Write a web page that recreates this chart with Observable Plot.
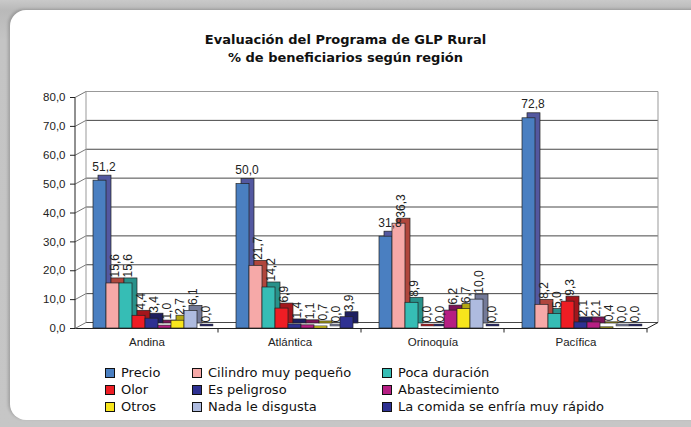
<!DOCTYPE html>
<html>
<head>
<meta charset="utf-8">
<script src="https://cdn.jsdelivr.net/npm/d3@7"></script>
<script src="https://cdn.jsdelivr.net/npm/@observablehq/plot@0.6"></script>
<style>
  html, body { margin: 0; padding: 0; }
  body { width: 691px; height: 427px; overflow: hidden; position: relative;
         background: linear-gradient(180deg, #c9c9c9 0px, #b9b9b9 10px, #c4c4c4 40px, #c6c6c6 100%); }
  #card { position: absolute; left: 10px; top: 10px; width: 720px; height: 410px; background: #fff;
          border-radius: 16px; box-shadow: -2px -1px 3px rgba(0,0,0,0.18); }
  #title { position: absolute; top: 31px; left: 0; width: 691px; text-align: center;
           font-family: "DejaVu Sans", sans-serif;
           font-weight: bold; font-size: 13px; line-height: 18px; color: #111; }
  #chart { position: absolute; top: 80px; left: 0; }
  #legend { position: absolute; top: 364px; left: 0; width: 691px;
            font-family: "DejaVu Sans", sans-serif;
            font-size: 13px; line-height: 17px; color: #111; }
  .item { position: absolute; white-space: nowrap; }
  .sw { display: inline-block; width: 8px; height: 8px; border: 1.5px solid #111; margin-right: 6px; vertical-align: -1px; }
</style>
</head>
<body>
<div id="card"></div>
<div id="title">Evaluación del Programa de GLP Rural<br>% de beneficiarios según región</div>
<div id="chart"></div>
<div id="legend"></div>
<script>
const regions = ["Andina", "Atlántica", "Orinoquía", "Pacífica"];
const series = ["Precio", "Cilindro muy pequeño", "Poca duración", "Olor", "Es peligroso",
                "Abastecimiento", "Otros", "Nada le disgusta", "La comida se enfría muy rápido"];
const andina    = [51.2, 15.6, 15.6, 4.4, 3.4, 1.0, 2.7, 6.1, 0.0];
const atlantica = [50.0, 21.7, 14.2, 6.9, 1.4, 1.1, 0.7, 0.0, 3.9];
const orinoquia = [31.8, 36.3, 8.9, 0.0, 0.0, 6.2, 6.7, 10.0, 0.0];
const pacifica  = [72.8, 8.2, 5.0, 9.3, 2.1, 2.1, 0.4, 0.0, 0.0];
const yTicks = [0, 10, 20, 30, 40, 50, 60, 70, 80];
const frontColors = ["#4A7FC1", "#F6A9A8", "#36BDB5", "#EE1D24", "#2E3192", "#B61E83", "#F7E51C", "#AEBBDF", "#2E3192"];
const sideColors  = ["#5358A0", "#B0463C", "#28918A", "#A3161C", "#1E1F60", "#7C1458", "#B4A712", "#737A98", "#1E1F60"];

const values = [andina, atlantica, orinoquia, pacifica];
const data = regions.flatMap((r, i) => series.map((s, j) => ({region: r, series: s, value: values[i][j], j})));
const deco = regions.map(r => ({region: r}));
const fmt = v => v.toFixed(1).replace(".", ",");

const DX = 11, DY = -6;

function addLine(g, a, b, c, d, s) {
  const l = document.createElementNS("http://www.w3.org/2000/svg", "line");
  l.setAttribute("x1", a); l.setAttribute("y1", b); l.setAttribute("x2", c); l.setAttribute("y2", d);
  l.setAttribute("stroke", s); l.setAttribute("stroke-width", 1);
  g.appendChild(l);
}

const chart = Plot.plot({
  width: 691, height: 275,
  marginLeft: 75, marginRight: 44, marginTop: 17, marginBottom: 27,
  style: {fontFamily: "'Liberation Sans', Arial, sans-serif", fontSize: "11.5px", color: "#222", background: "transparent"},
  fx: {domain: regions, paddingInner: 0, paddingOuter: 0, label: null},
  x: {domain: series, paddingInner: 0, paddingOuter: 0.76, align: 0.68, axis: null},
  y: {domain: [0, 80], label: null},
  color: {domain: series, range: frontColors},
  marks: [
    Plot.ruleY(yTicks.filter(t => t < 80), {dx: DX, dy: DY, stroke: "#333", strokeWidth: 0.9}),
    Plot.ruleY(deco, {fx: "region", y: () => 80, dx: DX, dy: DY, stroke: "#999", strokeWidth: 1}),
    Plot.ruleY(deco, {fx: "region", y: () => 0, stroke: "#222", strokeWidth: 1,
      render: (index, scales, vals, dim, context, next) => {
        const g = next(index, scales, vals, dim, context);
        const region = deco[index[0]].region;
        const y = scales.y;
        const x0 = dim.marginLeft, x1 = dim.width - dim.marginRight;
        if (region === regions[0]) {
          for (const t of yTicks) addLine(g, x0, y(t), x0 + DX, y(t) + DY, "#777");
          addLine(g, x0 + DX, y(0) + DY, x0 + DX, y(80) + DY, "#999");
          addLine(g, x0, y(0), x0, y(80), "#222");
        }
        if (region === regions[regions.length - 1]) {
          addLine(g, x1 + DX, y(0) + DY, x1 + DX, y(80) + DY, "#999");
          addLine(g, x1, y(0), x1 + DX, y(0) + DY, "#222");
        }
        addLine(g, x1, y(0), x1, y(0) + 4, "#222");
        return g;
      }}),
    Plot.axisY({ticks: yTicks, tickFormat: fmt, tickSize: 5, tickPadding: 5, label: null, fontSize: 11.5}),
    Plot.axisFx({anchor: "bottom", tickSize: 0, tickPadding: 9, label: null, fontSize: 11.5}),
    Plot.barY(data.filter(d => d.value === 0), {fx: "region", x: "series", y: "value", fill: d => sideColors[d.j], dx: 3, dy: -2, insetTop: -2, stroke: "#444", strokeWidth: 0.5}),
    Plot.barY(data, {fx: "region", x: "series", y: "value", fill: d => sideColors[d.j], dx: 5, dy: -5, stroke: "#222", strokeWidth: 0.7}),
    Plot.barY(data, {fx: "region", x: "series", y: "value", fill: "series", stroke: "#222", strokeWidth: 0.7}),
    Plot.text(data.filter(d => d.j === 0), {fx: "region", x: "series", y: "value", text: d => fmt(d.value), dx: 4, dy: -14, fontSize: 12, fill: "#222"}),
    Plot.text(data.filter(d => d.j !== 0), {fx: "region", x: "series", y: "value", text: d => fmt(d.value), rotate: -90, textAnchor: "start", dx: 2, dy: -6, fontSize: 12, fill: "#222"})
  ]
});
document.getElementById("chart").appendChild(chart);

const legend = document.getElementById("legend");
const colX = [105, 192, 382];
series.forEach((s, i) => {
  const div = document.createElement("div");
  div.className = "item";
  div.style.left = colX[i % 3] + "px";
  div.style.top = Math.floor(i / 3) * 17 + "px";
  const sw = document.createElement("span");
  sw.className = "sw";
  sw.style.background = frontColors[i];
  div.appendChild(sw);
  div.appendChild(document.createTextNode(s));
  legend.appendChild(div);
});
</script>
</body>
</html>
